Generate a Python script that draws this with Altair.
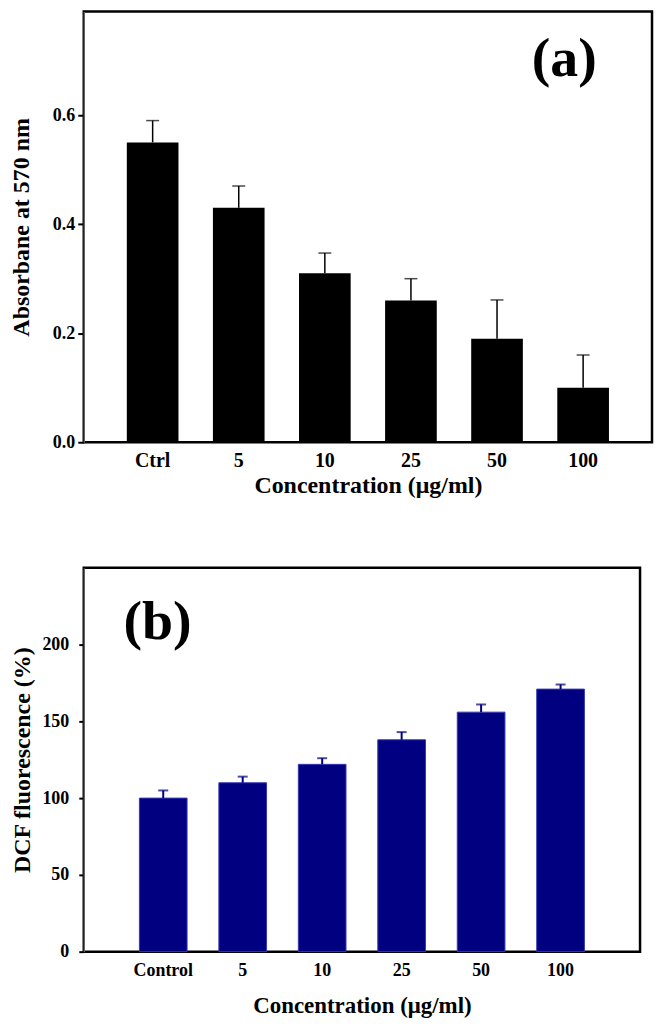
import altair as alt
import pandas as pd

# Panel (a)
cat_a = ["Ctrl", "5", "10", "25", "50", "100"]
val_a = [0.55, 0.43, 0.31, 0.26, 0.19, 0.10]
hi_a = [0.59, 0.47, 0.347, 0.30, 0.261, 0.16]
ticks_a = [0.0, 0.2, 0.4, 0.6]

# Panel (b)
cat_b = ["Control", "5", "10", "25", "50", "100"]
val_b = [100, 110, 122, 138, 156, 171]
hi_b = [105, 114, 126, 143, 161, 174]
ticks_b = [0, 50, 100, 150, 200]

SERIF = "Liberation Serif"
NAVY = "#000080"

df_a = pd.DataFrame({"c": cat_a, "v": val_a, "hi": hi_a})
df_b = pd.DataFrame({"c": cat_b, "v": val_b, "hi": hi_b})


def x_enc(cats, pad_outer, label_pad, title_pad, label_size, title_size):
    return alt.X(
        "c:N", sort=cats,
        scale=alt.Scale(paddingInner=0.4, paddingOuter=pad_outer),
        axis=alt.Axis(title="Concentration (μg/ml)", labelAngle=0, ticks=False,
                      domain=False, labelPadding=label_pad, titlePadding=title_pad,
                      labelFontSize=label_size, titleFontSize=title_size),
    )


# ---- top panel
ya = alt.Y("v:Q", scale=alt.Scale(domain=[0, 0.79], nice=False),
           axis=alt.Axis(values=ticks_a, format=".1f", title="Absorbane at 570 nm",
                         tickSize=6, labelPadding=3, titlePadding=19,
                         labelFontSize=18, titleFontSize=24))
base_a = alt.Chart(df_a)
bars_a = base_a.mark_bar(color="black").encode(x=x_enc(cat_a, 0.5, 8, 3, 20, 24), y=ya)
rule_a = base_a.mark_rule(color="black", strokeWidth=1.5).encode(
    x=alt.X("c:N", sort=cat_a), y="v:Q", y2="hi:Q")
cap_a = base_a.mark_tick(color="black", thickness=1.5, size=13, orient="horizontal").encode(
    x=alt.X("c:N", sort=cat_a), y="hi:Q")
lab_a = alt.Chart(pd.DataFrame({"t": ["(a)"]})).mark_text(
    font=SERIF, fontSize=56, fontWeight="bold", baseline="middle", align="center", color="black"
).encode(x=alt.value(482), y=alt.value(48), text="t:N")
top = alt.layer(bars_a, rule_a, cap_a, lab_a).properties(width=570, height=432)

# ---- bottom panel
yb = alt.Y("v:Q", scale=alt.Scale(domain=[0, 250], nice=False),
           axis=alt.Axis(values=ticks_b, format="d", title="DCF fluorescence (%)",
                         tickSize=5, labelPadding=10, titlePadding=7,
                         labelFontSize=18, titleFontSize=24))
base_b = alt.Chart(df_b)
bars_b = base_b.mark_bar(color=NAVY, stroke="#3838b0", strokeWidth=1).encode(
    x=x_enc(cat_b, 0.7, 10, 15, 18, 23), y=yb)
rule_b = base_b.mark_rule(color=NAVY, strokeWidth=2).encode(
    x=alt.X("c:N", sort=cat_b), y="v:Q", y2="hi:Q")
cap_b = base_b.mark_tick(color=NAVY, thickness=2, size=10, orient="horizontal").encode(
    x=alt.X("c:N", sort=cat_b), y="hi:Q")
lab_b = alt.Chart(pd.DataFrame({"t": ["(b)"]})).mark_text(
    font=SERIF, fontSize=56, fontWeight="bold", baseline="middle", align="center", color="black"
).encode(x=alt.value(74), y=alt.value(54), text="t:N")
bottom = alt.layer(bars_b, rule_b, cap_b, lab_b).properties(width=558, height=385)

chart = alt.concat(top, bottom, columns=1, spacing=67).properties(
    padding={"left": 0, "top": 0, "right": 0, "bottom": 0}
).configure(
    font=SERIF,
).configure_view(
    stroke="black", strokeWidth=2.5
).configure_axis(
    labelFont=SERIF, titleFont=SERIF, labelFontWeight="bold", titleFontWeight="bold",
    labelColor="black", titleColor="black", tickColor="black", tickWidth=2, grid=False,
)

chart.save("out.html", embed_options={"renderer": "svg", "actions": False})
